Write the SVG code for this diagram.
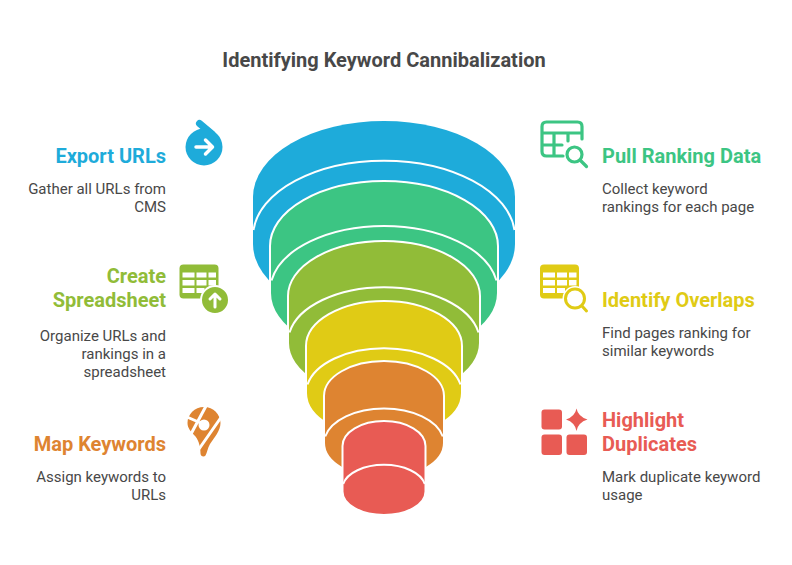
<svg xmlns="http://www.w3.org/2000/svg" width="792" height="565" viewBox="0 0 792 565">
<style>
text{font-family:Roboto,"Liberation Sans",sans-serif}
.title{font-size:20px;font-weight:700;fill:#484848;text-anchor:middle}
.h{font-size:20px;font-weight:700}
.d{font-size:15px;fill:#484848}
.r{text-anchor:end}
.w{fill:none;stroke:#fff;stroke-width:2}
.blue{fill:#1eabda}.green{fill:#3cc583}.lime{fill:#91bc38}.yellow{fill:#e0cb15}.orange{fill:#de8431}.red{fill:#e85b54}
.wl{stroke:#fff;stroke-linecap:round;stroke-linejoin:round;fill:none}
</style>
<rect width="792" height="565" fill="#fff"/>
<text class="title" x="384" y="66.500">Identifying Keyword Cannibalization</text>
<g id="funnel">
<g id="layer-blue">
<path class="blue" d="M253 197A131 76 0 0 1 515 197V244A131 76 0 0 1 253 244Z"/>
<path class="w" d="M253.500 230A131 76 0 0 1 514.500 230"/>
</g>
<g id="layer-green">
<path class="green" stroke="#fff" stroke-width="2" d="M270 246A114 65 0 0 1 498 246V293A114 65 0 0 1 270 293Z"/>
<path class="w" d="M271.500 280.500A114 65 0 0 1 496.500 280.500"/>
</g>
<g id="layer-lime">
<path class="lime" stroke="#fff" stroke-width="2" d="M288 296A96 55 0 0 1 480 296V343A96 55 0 0 1 288 343Z"/>
<path class="w" d="M289.500 332.500A96 55 0 0 1 478.500 332.500"/>
</g>
<g id="layer-yellow">
<path class="yellow" stroke="#fff" stroke-width="2" d="M306 346A78 45 0 0 1 462 346V393A78 45 0 0 1 306 393Z"/>
<path class="w" d="M307.500 384.500A78 45 0 0 1 460.500 384.500"/>
</g>
<g id="layer-orange">
<path class="orange" stroke="#fff" stroke-width="2" d="M324 396A60 35 0 0 1 444 396V443A60 35 0 0 1 324 443Z"/>
<path class="w" d="M325.200 436.500A60 35 0 0 1 442.800 436.500"/>
</g>
<g id="layer-red">
<path class="red" stroke="#fff" stroke-width="2" d="M342.500 446A41.500 25 0 0 1 425.500 446V491.500A41.500 23.500 0 0 1 342.500 491.500Z"/>
<path class="w" d="M343.200 484A41.500 23.500 0 0 1 424.800 484"/>
</g>
</g>
<g id="node-export-urls">
<text class="h r" x="166" y="163" fill="#1eabda">Export URLs</text>
<text class="d r" x="166" y="193.500">Gather all URLs from</text>
<text class="d r" x="166" y="211.500">CMS</text>
<path d="M199.500 123.500L212 134" stroke="#1eabda" stroke-width="7" stroke-linecap="round"/>
<circle class="blue" cx="204" cy="147" r="18.500"/>
<path class="wl" stroke-width="3.500" d="M196 147H212M205.500 140L212.500 147L205.500 154"/>
</g>
<g id="node-create-spreadsheet">
<text class="h r" x="166" y="283" fill="#91bc38">Create</text>
<text class="h r" x="166" y="307" fill="#91bc38">Spreadsheet</text>
<text class="d r" x="166" y="340.500">Organize URLs and</text>
<text class="d r" x="166" y="358.500">rankings in a</text>
<text class="d r" x="166" y="376.500">spreadsheet</text>
<rect class="lime" x="179.500" y="264.500" width="39" height="34" rx="4"/>
<path fill="#fff" d="M182.500 272.500h12v5h-12zM196.500 272.500h10v5h-10zM208.500 272.500h7.500v5h-7.500zM182.500 280h12v5.500h-12zM196.500 280h10v5.500h-10zM208.500 280h7.500v5.500h-7.500zM182.500 288h12v5h-12zM196.500 288h8v5h-8z"/>
<circle class="lime" cx="215" cy="300" r="14" stroke="#fff" stroke-width="2"/>
<path class="wl" stroke-width="3" d="M215 307V294M210 299L215 294L220 299"/>
</g>
<g id="node-map-keywords">
<text class="h r" x="166" y="451" fill="#de8431">Map Keywords</text>
<text class="d r" x="166" y="481.500">Assign keywords to</text>
<text class="d r" x="166" y="499.500">URLs</text>
<path class="orange" d="M204 407C213.500 407 220.500 414.500 220.500 423C220.500 431 214 438 210 444C207.500 448.500 207 453 205.500 455.500C204 457.500 200.500 456.500 200.500 453.500C200.500 447.500 199 441 195.500 436.500C191 431.500 187.500 428.500 187.500 423C187.500 414.500 194.500 407 204 407Z"/>
<path stroke="#fff" stroke-width="3" fill="none" d="M206 406L191 434M187 417L203 424M222 416L199 449"/>
<circle cx="204" cy="425" r="5.500" fill="#fff"/>
</g>
<g id="node-pull-ranking-data">
<text class="h" x="602" y="163" fill="#3cc583">Pull Ranking Data</text>
<text class="d" x="602" y="193.500">Collect keyword</text>
<text class="d" x="602" y="211.500">rankings for each page</text>
<path fill="none" stroke="#3cc583" stroke-width="3.200" stroke-linecap="round" stroke-linejoin="round" d="M582 139V126.500Q582 122 577.500 122H546.500Q542 122 542 126.500V151.500Q542 156 546.500 156H563M542 133H582M542 145H562M554 133V156M568 133V141"/>
<circle cx="574.500" cy="154.500" r="7.500" fill="none" stroke="#3cc583" stroke-width="3.200"/>
<path d="M580 160L586.500 166.500" stroke="#3cc583" stroke-width="3.200" stroke-linecap="round"/>
</g>
<g id="node-identify-overlaps">
<text class="h" x="602" y="307" fill="#e0cb15">Identify Overlaps</text>
<text class="d" x="602" y="337.500">Find pages ranking for</text>
<text class="d" x="602" y="355.500">similar keywords</text>
<rect class="yellow" x="540" y="264.500" width="39" height="34" rx="4"/>
<path fill="#fff" d="M543 272.500h12v5h-12zM557 272.500h10v5h-10zM569 272.500h7.500v5h-7.500zM543 280h12v5.500h-12zM557 280h10v5.500h-10zM569 280h7.500v5.500h-7.500zM543 288h12v5h-12zM557 288h8v5h-8z"/>
<circle cx="575" cy="298.500" r="10.500" fill="#fff" stroke="#fff" stroke-width="4"/>
<circle cx="575" cy="298.500" r="9.500" fill="#fff" stroke="#e0cb15" stroke-width="3"/>
<path d="M582 306L586.500 311" stroke="#e0cb15" stroke-width="3" stroke-linecap="round"/>
</g>
<g id="node-highlight-duplicates">
<text class="h" x="602" y="427" fill="#e85b54">Highlight</text>
<text class="h" x="602" y="451" fill="#e85b54">Duplicates</text>
<text class="d" x="602" y="481.500">Mark duplicate keyword</text>
<text class="d" x="602" y="499.500">usage</text>
<rect class="red" x="541.500" y="409.500" width="20.500" height="20" rx="3"/>
<rect class="red" x="541.500" y="434.500" width="20.500" height="20.500" rx="3"/>
<rect class="red" x="566.500" y="434.500" width="20.500" height="20.500" rx="3"/>
<path class="red" d="M576.500 408.500Q578 416.500 587.500 419.500Q578 422.500 576.500 431Q575 422.500 566 419.500Q575 416.500 576.500 408.500Z"/>
</g>
</svg>
